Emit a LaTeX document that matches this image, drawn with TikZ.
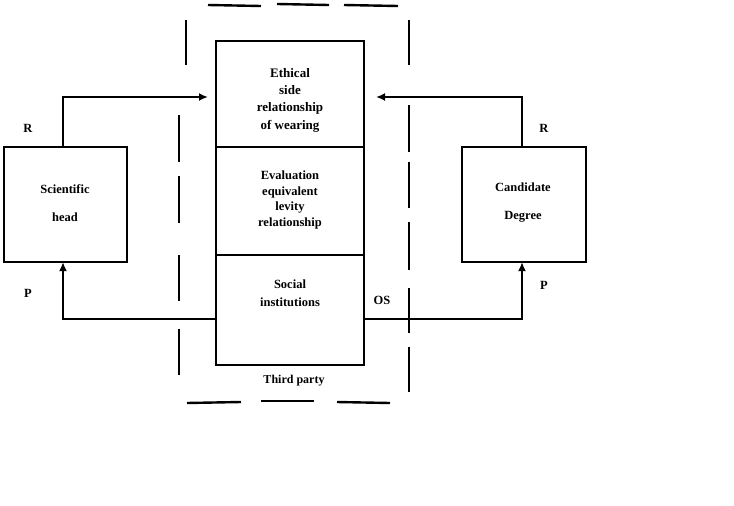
\documentclass[tikz,border=0pt]{standalone}
\usepackage{fontspec}
\setmainfont{Liberation Serif}
\usetikzlibrary{arrows.meta}
\begin{document}
\begin{tikzpicture}[x=1pt,y=-1pt,
  boxst/.style={draw,line width=2.2pt,inner sep=0pt},
  conn/.style={line width=2pt,-{Latex[length=9pt,width=8pt]}},
  dsh/.style={line width=2.4pt},
  lbl/.style={font=\bfseries\fontsize{12.5}{15}\selectfont,align=center,inner sep=0pt}]
\useasboundingbox (0,0) rectangle (734,506);
% central column
\node[boxst,minimum width=148pt,minimum height=106pt] (top) at (290,94) {};
\node[boxst,minimum width=148pt,minimum height=108pt] (mid) at (290,201) {};
\node[boxst,minimum width=148pt,minimum height=110pt] (bot) at (290,310) {};
\node[lbl,font=\bfseries\fontsize{13}{17.3}\selectfont] (ttop) at (290,100) {Ethical\\side\\relationship\\of wearing};
\node[lbl,font=\bfseries\fontsize{12.5}{15.8}\selectfont] (tmid) at (290,200) {Evaluation\\equivalent\\levity\\relationship};
\node[lbl,font=\bfseries\fontsize{12.5}{18}\selectfont] (tbot) at (290,293) {Social\\institutions};
% side boxes
\node[boxst,minimum width=123pt,minimum height=115pt] (left) at (65.5,204.5) {};
\node[boxst,minimum width=124pt,minimum height=115pt] (right) at (524,204.5) {};
\node[lbl,font=\bfseries\fontsize{12.5}{28}\selectfont] (tleft) at (65,203) {Scientific\\head};
\node[lbl,font=\bfseries\fontsize{12.5}{28}\selectfont] (tright) at (523,203) {Candidate\\Degree};
% labels
\node[lbl] (r1) at (28,128) {R};
\node[lbl] (r2) at (544,128) {R};
\node[lbl] (p1) at (28,293) {P};
\node[lbl] (p2) at (544,285) {P};
\node[lbl] (os) at (382,300) {OS};
\node[lbl,font=\bfseries\fontsize{12}{15}\selectfont] (third) at (294,381) {Third party};
% coordinates
\coordinate (ltop) at (63,97);
\coordinate (rtop) at (522,97);
\coordinate (lbot) at (63,319);
\coordinate (rbot) at (522,319);
\coordinate (ain) at (208,97);
\coordinate (bin) at (376,97);
% connectors
\draw[conn] (left.north -| ltop) -- (ltop) -- (ain);
\draw[conn] (right.north -| rtop) -- (rtop) -- (bin);
\draw[conn] (bot.west |- lbot) -- (lbot) -- ([yshift=1pt]left.south -| lbot);
\draw[conn] (bot.east |- rbot) -- (rbot) -- ([yshift=1pt]right.south -| rbot);
% dashed enclosure
\draw[dsh] (208,5) -- (261,6);
\draw[dsh] (277,4) -- (329,5);
\draw[dsh] (344,5) -- (398,6);
\draw[dsh] (187,403) -- (241,402);
\draw[dsh] (261,401) -- (314,401);
\draw[dsh] (337,402) -- (390,403);
\draw[dsh] (186,20) -- (186,65);
\foreach \a/\b in {115/162,176/223,255/301,329/375} \draw[dsh] (179,\a) -- (179,\b);
\foreach \a/\b in {20/65,105/152,162/208,222/270,288/333,347/392} \draw[dsh] (409,\a) -- (409,\b);
\end{tikzpicture}
\end{document}
